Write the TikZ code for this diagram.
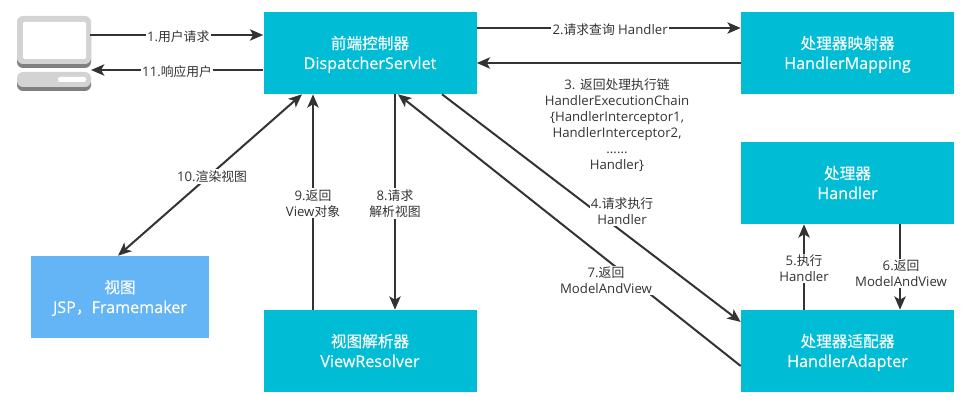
\documentclass[tikz,border=0pt]{standalone}
\usepackage{fontspec}
\setmainfont{Open Sans}
\newfontfamily\cjk[Scale=0.97]{Noto Sans CJK SC}
\newfontfamily\boldlat[FakeBold=0.25]{Open Sans}
\newfontfamily\boldcjk[FakeBold=0.25,Scale=0.97]{Noto Sans CJK SC}
\newcommand{\zh}[1]{{\cjk #1}}
\newcommand{\bz}[1]{{\boldcjk #1}}
\newcommand{\bt}[2]{\raisebox{-1.5pt}[\height][\depth]{\begin{tabular}{@{}c@{}}#1\\#2\end{tabular}}}
\usetikzlibrary{arrows.meta}
\definecolor{boxcyan}{HTML}{00BCD4}
\definecolor{boxblue}{HTML}{64B5F6}
\definecolor{linedark}{HTML}{333333}
\definecolor{pcgray}{HTML}{D3D3D3}
\definecolor{pcdark}{HTML}{808080}
\tikzset{
  box/.style={fill=boxcyan,text=white,minimum width=159.75pt,minimum height=61.5pt,inner sep=0pt,align=center,font=\fontsize{12.1pt}{15pt}\boldlat},
  viewbox/.style={box,fill=boxblue,minimum width=133.5pt},
  conn/.style={draw=linedark,line width=1.5pt,-{Stealth[length=10pt,width=8.5pt,inset=2.5pt]}},
  both/.style={draw=linedark,line width=1.5pt,{Stealth[length=10pt,width=8.5pt,inset=2.5pt]}-{Stealth[length=10pt,width=8.5pt,inset=2.5pt]}},
  lab/.style={fill=white,text=linedark,inner sep=1pt,align=center,yshift=-1pt,font=\fontsize{9.9pt}{12pt}\selectfont}
}
\begin{document}
\begin{tikzpicture}[x=.75pt,y=-.75pt]
\useasboundingbox (0,0) rectangle (971,403);
% computer
\fill[pcdark,rounded corners=4.5pt] (17,30) rectangle (91,68);
\fill[pcgray,rounded corners=4.5pt] (17,16) rectangle (91,64);
\fill[white,rounded corners=1pt] (23,22) rectangle (86,59);
\fill[pcdark,rounded corners=4.5pt] (17,76) rectangle (91,91);
\fill[pcgray,rounded corners=4.5pt] (17,72) rectangle (91,87);
\fill[white,rounded corners=1.5pt] (58,77) rectangle (86,82);
\coordinate (pcA) at (90,35);
\coordinate (pcB) at (91,70);
% boxes
\node[box] (disp) at (370,53) {\bt{\bz{前端控制器}}{DispatcherServlet}};
\node[box] (map) at (847.5,53) {\bt{\bz{处理器映射器}}{HandlerMapping}};
\node[box] (hand) at (847.5,183) {\bt{\bz{处理器}}{Handler}};
\node[box] (adap) at (847.5,351) {\bt{\bz{处理器适配器}}{HandlerAdapter}};
\node[box] (vr) at (370,351) {\bt{\bz{视图解析器}}{ViewResolver}};
\node[viewbox] (view) at (120,297) {\bt{\bz{视图}}{JSP\bz{，}Framemaker}};
% connectors
\draw[conn] (pcA) -- (pcA -| disp.west) node[lab,midway,xshift=1.2pt] (l1) {1.\zh{用户请求}};
\draw[conn] (pcB -| disp.west) -- (pcB) node[lab,midway] (l11) {11.\zh{响应用户}};
\draw[conn] ([yshift=18.75pt]disp.east) -- ([yshift=18.75pt]map.west) node[lab,midway,xshift=1pt] (l2) {2.\zh{请求查询} Handler};
\draw[conn] ([yshift=-7.5pt]map.west) -- ([yshift=-7.5pt]disp.east);
\node[lab,fill=none] (l3) at (617,124) {3. \zh{返回处理执行链}\\HandlerExecutionChain\\\{HandlerInterceptor1,\\HandlerInterceptor2,\\......\\Handler\}};
\draw[conn] ([xshift=54pt]disp.south) -- ([yshift=21.75pt]adap.west);
\draw[conn] ([yshift=-11.25pt]adap.west) -- ([xshift=21pt]disp.south);
\node[lab] (l4) at (622,210) {4.\zh{请求执行}\\Handler};
\node[lab] (l7) at (606,279) {7.\zh{返回}\\ModelAndView};
\draw[both] ([xshift=-51pt]disp.south) -- ([xshift=-1.5pt]view.north) node[lab,pos=.5,xshift=1.5pt] (l10) {10.\zh{渲染视图}};
\draw[conn] ([xshift=-42.75pt]vr.north) -- ([xshift=-42.75pt]disp.south) node[lab,midway] (l9) {9.\zh{返回}\\View\zh{对象}};
\draw[conn] ([xshift=18.75pt]disp.south) -- ([xshift=18.75pt]vr.north) node[lab,midway] (l8) {8.\zh{请求}\\\zh{解析视图}};
\draw[conn] ([xshift=-32.6pt]adap.north) -- ([xshift=-32.6pt]hand.south) node[lab,pos=.5] (l5) {5.\zh{执行}\\Handler};
\draw[conn] ([xshift=39.4pt]hand.south) -- ([xshift=39.4pt]adap.north) node[lab,pos=.56,xshift=.75pt] (l6) {6.\zh{返回}\\ModelAndView};
\end{tikzpicture}
\end{document}
